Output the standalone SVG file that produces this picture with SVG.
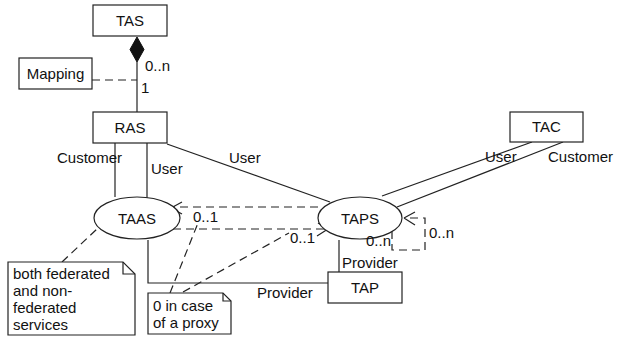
<svg xmlns="http://www.w3.org/2000/svg" width="619" height="337" viewBox="0 0 619 337">
<style>
text{font-family:"Liberation Sans",Arial,sans-serif;font-size:15px;fill:#111}
.b{fill:#fff;stroke:#222;stroke-width:1.2}
.l{fill:none;stroke:#222;stroke-width:1.2}
.d{fill:none;stroke:#222;stroke-width:1.2;stroke-dasharray:8,5}
.c{text-anchor:middle}
</style>
<rect width="619" height="337" fill="#fff"/>
<g id="connectors">
<path class="l" d="M137,62V112"/>
<polygon points="137,37 144,49.5 137,62 130,49.5" fill="#111" stroke="#111"/>
<path class="d" d="M92,80H137"/>
<path class="l" d="M115,143V197"/>
<path class="l" d="M147,143V198"/>
<path class="l" d="M167,144L330,202"/>
<path class="l" d="M532,142L382,196"/>
<path class="l" d="M563,142L397,207"/>
<path class="d" d="M318,207H173"/>
<path class="l" d="M171,208L182,202M171,208L182,214"/>
<path class="d" d="M173,229H326"/>
<path class="l" d="M328,229L318,223M328,229L317,236"/>
<path class="d" d="M392,231V250H425V218H406"/>
<path class="l" d="M404,218L415,212M404,218L415,225"/>
<path class="l" d="M339,240V272"/>
<path class="l" d="M148,240V283H328"/>
<path class="d" d="M62,262L98,228"/>
<path class="d" d="M170,293L198,223"/>
<path class="d" d="M183,292L289,233"/>
</g>
<g id="TAS"><rect class="b" x="93" y="5" width="74" height="31"/><text class="c" x="130" y="26">TAS</text></g>
<g id="Mapping"><rect class="b" x="19" y="58" width="73" height="31"/><text class="c" x="55.5" y="79">Mapping</text></g>
<g id="RAS"><rect class="b" x="93" y="112" width="74" height="31"/><text class="c" x="130" y="133">RAS</text></g>
<g id="TAC"><rect class="b" x="510" y="112" width="73" height="30"/><text class="c" x="546.5" y="132">TAC</text></g>
<g id="TAAS"><ellipse class="b" cx="137" cy="218" rx="43" ry="21"/><text class="c" x="137" y="224">TAAS</text></g>
<g id="TAPS"><ellipse class="b" cx="360" cy="218" rx="42" ry="21"/><text class="c" x="360" y="224">TAPS</text></g>
<g id="TAP"><rect class="b" x="328" y="272" width="74" height="31"/><text class="c" x="365" y="293">TAP</text></g>
<g id="note1"><path class="b" d="M8,262H123L135,274V335H8Z"/><path class="l" d="M123,262V274H135"/>
<text x="13" y="279">both federated</text><text x="13" y="296">and non-</text><text x="13" y="313">federated</text><text x="13" y="330">services</text></g>
<g id="note2"><path class="b" d="M148,293H223L231,301V334H148Z"/><path class="l" d="M223,293V301H231"/>
<text x="153" y="311">0 in case</text><text x="153" y="328">of a proxy</text></g>
<g id="labels">
<text x="145" y="71">0..n</text>
<text x="141" y="93">1</text>
<text x="57" y="163">Customer</text>
<text x="151" y="174">User</text>
<text x="229" y="163">User</text>
<text x="485" y="162">User</text>
<text x="548" y="162">Customer</text>
<text x="193" y="222">0..1</text>
<text x="290" y="243">0..1</text>
<text x="366" y="246">0..n</text>
<text x="429" y="238">0..n</text>
<text x="342" y="268">Provider</text>
<text x="257" y="298">Provider</text>
</g>
</svg>
